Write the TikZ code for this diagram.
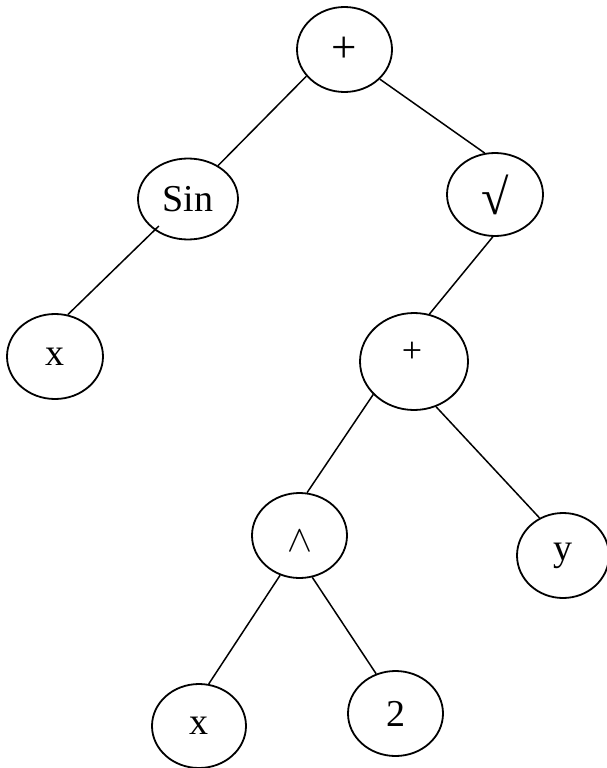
\documentclass[tikz,border=0pt]{standalone}
\usepackage{fontspec}
\usepackage{graphicx}
\setmainfont{Liberation Serif}
\usetikzlibrary{shapes.geometric}

\begin{document}
\begin{tikzpicture}[x=1pt,y=-1pt,
  op/.style={draw,ellipse,line width=1.8pt,inner sep=0pt,
    minimum width=95pt,minimum height=85pt,font=\fontsize{38}{38}\selectfont},
  edge/.style={line width=1.5pt}]
  \useasboundingbox (0,0) rectangle (607,768);
  % nodes
  \node[op,font=\fontsize{45}{45}\selectfont] (root) at (344.5,49.5) {+};
  \node[op,minimum width=100pt,minimum height=81pt] (sin) at (188,199) {Sin};
  \node[op,minimum width=96pt,minimum height=83pt,font=\fontsize{50}{50}\selectfont] (sqrt) at (495,194.5) {√};
  \node[op,minimum width=96pt] (xa) at (55,356.5) {x};
  \node[op,minimum width=108pt,minimum height=97pt] (plusb) at (414,361.5) {};
  \node[font=\fontsize{36}{36}\selectfont] (plusbtxt) at (412,352) {+};
  \node[op] (pow) at (299.5,535.5) {};
  \node[font=\fontsize{30}{30}\selectfont] (powtxt) at (299.5,541) {\scalebox{1.5}{$\wedge$}};
  \node[op,minimum width=92pt] (y) at (563,555.5) {y};
  \node[op,minimum width=94pt,minimum height=84pt] (xb) at (199,726) {x};
  \node[op] (two) at (395.5,713.5) {2};
  % edges
  \draw[edge] (root.215) -- (sin.48);
  \draw[edge,shorten <=-6pt] (sin.223) -- (xa.73);
  \draw[edge] (root.320) -- (sqrt.104);
  \draw[edge] (sqrt.267) -- (plusb.72);
  \draw[edge] (plusb.219) -- (pow.80);
  \draw[edge] (plusb.296) -- (y.122);
  \draw[edge] (pow.244) -- (xb.77);
  \draw[edge] (pow.287) -- (two.116);
\end{tikzpicture}
\end{document}
